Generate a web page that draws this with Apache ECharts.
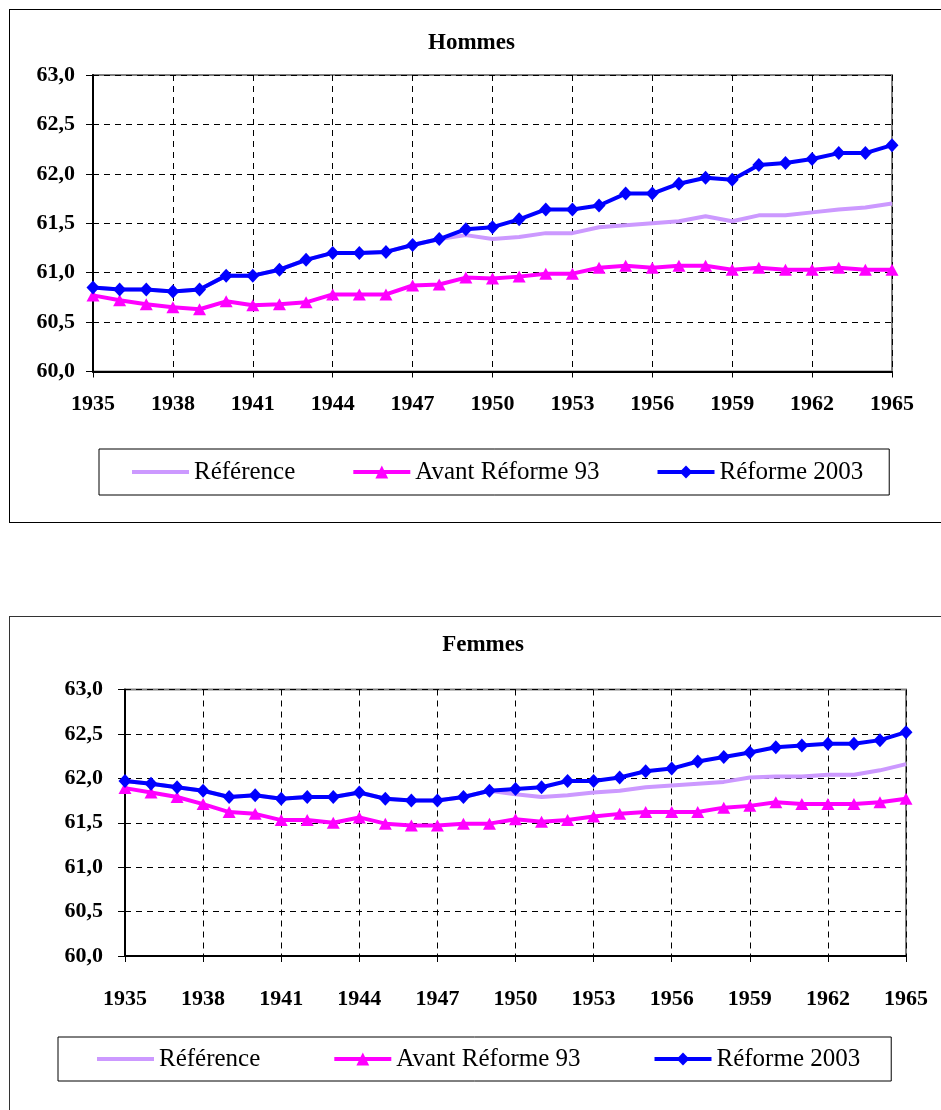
<!DOCTYPE html>
<html>
<head>
<meta charset="utf-8">
<script src="https://cdn.jsdelivr.net/npm/echarts@6/dist/echarts.min.js"></script>
<style>
  html, body { margin: 0; padding: 0; background: #fff; width: 941px; height: 1110px; overflow: hidden; }
  .box { position: absolute; left: 9px; width: 940px; border: 1px solid #000; background: #fff; }
  #hommes { top: 9px; height: 512px; }
  #femmes { top: 616px; height: 520px; border-color: #333; }
</style>
</head>
<body>
<div id="hommes" class="box"></div>
<div id="femmes" class="box"></div>
<script>
// Years on the horizontal axis
const years = [1935,1936,1937,1938,1939,1940,1941,1942,1943,1944,1945,1946,1947,1948,1949,1950,
               1951,1952,1953,1954,1955,1956,1957,1958,1959,1960,1961,1962,1963,1964,1965];

const seriesNames = ['Référence', 'Avant Réforme 93', 'Réforme 2003'];

// Hommes
const hommesRef    = [60.85,60.83,60.83,60.81,60.83,60.97,60.97,61.03,61.13,61.20,61.20,61.21,61.28,61.34,61.38,61.34,
                      61.36,61.40,61.40,61.46,61.48,61.50,61.52,61.57,61.52,61.58,61.58,61.61,61.64,61.66,61.70];
const hommesAvant  = [60.77,60.72,60.68,60.65,60.63,60.71,60.67,60.68,60.70,60.78,60.78,60.78,60.87,60.88,60.95,60.94,
                      60.96,60.99,60.99,61.05,61.07,61.05,61.07,61.07,61.03,61.05,61.03,61.03,61.05,61.03,61.03];
const hommes2003   = [60.85,60.83,60.83,60.81,60.83,60.97,60.97,61.03,61.13,61.20,61.20,61.21,61.28,61.34,61.44,61.46,
                      61.54,61.64,61.64,61.68,61.80,61.80,61.90,61.96,61.94,62.09,62.11,62.15,62.21,62.21,62.29];

// Femmes
const femmesRef    = [61.97,61.94,61.90,61.86,61.79,61.81,61.77,61.79,61.79,61.84,61.77,61.75,61.75,61.79,61.86,61.82,
                      61.79,61.81,61.84,61.86,61.90,61.92,61.94,61.96,62.01,62.02,62.02,62.04,62.04,62.09,62.16];
const femmesAvant  = [61.89,61.84,61.79,61.71,61.62,61.60,61.53,61.53,61.50,61.56,61.49,61.47,61.47,61.49,61.49,61.54,
                      61.51,61.53,61.57,61.60,61.62,61.62,61.62,61.67,61.69,61.73,61.71,61.71,61.71,61.73,61.77];
const femmes2003   = [61.97,61.94,61.90,61.86,61.79,61.81,61.77,61.79,61.79,61.84,61.77,61.75,61.75,61.79,61.86,61.88,
                      61.90,61.97,61.97,62.01,62.08,62.11,62.19,62.24,62.29,62.35,62.37,62.39,62.39,62.43,62.52];

const SERIF = '"Liberation Serif", "Times New Roman", serif';
const COLORS = ['#CC99FF', '#FF00FF', '#0000FF'];

function pairs(values) {
  return years.map((y, i) => [y, values[i]]);
}

function buildOption(cfg) {
  const dash = { type: [6, 5], color: '#000', width: 1 };
  return {
    animation: false,
    title: {
      text: cfg.title,
      left: cfg.titleX, top: cfg.titleY,
      textAlign: 'center',
      padding: 0,
      textStyle: { fontFamily: SERIF, fontWeight: 'bold', fontSize: 23, color: '#000' }
    },
    grid: {
      left: cfg.grid.left, top: cfg.grid.top, width: cfg.grid.width, height: cfg.grid.height,
      show: true, borderColor: '#808080', borderWidth: 2, backgroundColor: '#fff'
    },
    legend: {
      data: [
        // plain line for the reference scenario, no marker
        { name: seriesNames[0], itemStyle: { color: 'rgba(0,0,0,0)', borderWidth: 0 } },
        { name: seriesNames[1] },
        { name: seriesNames[2] }
      ],
      left: cfg.legend.left, top: cfg.legend.top,
      orient: 'horizontal',
      padding: cfg.legend.padding,
      itemGap: cfg.legend.gap,
      itemWidth: 57, itemHeight: 16,
      lineStyle: { width: 4 },
      borderColor: '#000', borderWidth: 1,
      textStyle: { fontFamily: SERIF, fontSize: 25, color: '#000', lineHeight: 26 }
    },
    xAxis: {
      type: 'value', min: 1935, max: 1965, interval: 3,
      axisLine: { show: true, onZero: false, lineStyle: { color: '#000', width: 2 } },
      axisTick: { show: true, inside: false, length: 6, lineStyle: { color: '#000', width: 1 } },
      axisLabel: {
        margin: cfg.xLabelMargin, fontFamily: SERIF, fontWeight: 'bold', fontSize: 22, color: '#000',
        formatter: v => String(v)
      },
      splitLine: { show: true, lineStyle: dash }
    },
    yAxis: {
      type: 'value', min: 60, max: 63, interval: 0.5,
      axisLine: { show: true, lineStyle: { color: '#000', width: 2 } },
      axisTick: { show: true, inside: false, length: 7, lineStyle: { color: '#000', width: 1 } },
      axisLabel: {
        margin: cfg.yLabelMargin, fontFamily: SERIF, fontWeight: 'bold', fontSize: 22, color: '#000',
        formatter: v => v.toFixed(1).replace('.', ',')
      },
      splitLine: { show: true, lineStyle: dash }
    },
    series: [
      {
        name: seriesNames[0], type: 'line', data: pairs(cfg.ref), z: 2,
        symbol: 'none', lineStyle: { color: COLORS[0], width: 4 }, itemStyle: { color: COLORS[0] }
      },
      {
        name: seriesNames[1], type: 'line', data: pairs(cfg.avant), z: 3,
        symbol: 'triangle', symbolSize: [13, 12], showAllSymbol: true,
        lineStyle: { color: COLORS[1], width: 4 }, itemStyle: { color: COLORS[1] }
      },
      {
        name: seriesNames[2], type: 'line', data: pairs(cfg.reforme), z: 4,
        symbol: 'diamond', symbolSize: [13, 14], showAllSymbol: true,
        lineStyle: { color: COLORS[2], width: 4 }, itemStyle: { color: COLORS[2] }
      }
    ]
  };
}

const hommesChart = echarts.init(document.getElementById('hommes'), null, { renderer: 'canvas' });
hommesChart.setOption(buildOption({
  title: 'Hommes', titleX: 461.5, titleY: 22,
  grid: { left: 83, top: 65, width: 799, height: 296.5 },
  legend: { left: 89, top: 439, padding: [10, 26, 10, 31], gap: 56 },
  xLabelMargin: 22, yLabelMargin: 18,
  ref: hommesRef, avant: hommesAvant, reforme: hommes2003
}));

const femmesChart = echarts.init(document.getElementById('femmes'), null, { renderer: 'canvas' });
femmesChart.setOption(buildOption({
  title: 'Femmes', titleX: 473, titleY: 17,
  grid: { left: 115, top: 72.5, width: 781, height: 266.5 },
  legend: { left: 48, top: 420, padding: [9, 31, 9, 37], gap: 72 },
  xLabelMargin: 32, yLabelMargin: 22,
  ref: femmesRef, avant: femmesAvant, reforme: femmes2003
}));
</script>
</body>
</html>
